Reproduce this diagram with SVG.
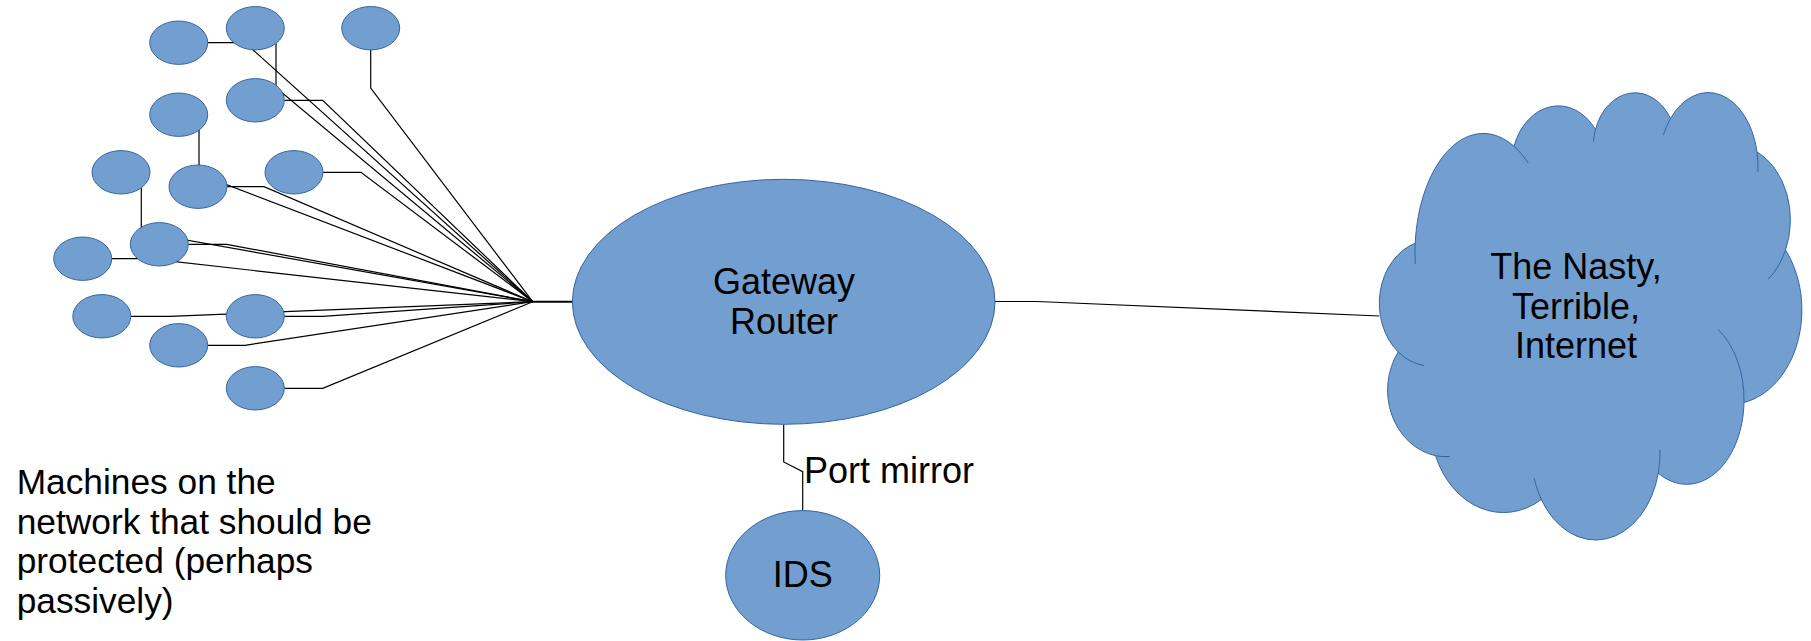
<svg xmlns="http://www.w3.org/2000/svg" width="1811" height="641" viewBox="0 0 1811 641">
<style>
.n{fill:#729fcf;stroke:#3465a4;stroke-width:1}
.c{fill:none;stroke:#000;stroke-width:1.2}
.ci{fill:none;stroke:#3465a4;stroke-width:1}
text{font-family:"Liberation Sans",Arial,sans-serif;font-size:36px;fill:#000}
.m{text-anchor:middle}
.cap{font-size:35.3px}
</style>
<rect width="1811" height="641" fill="#fff"/>
<g id="connectors">
<polyline class="c" points="207.7,42.7 245,42.7 532.7,301.7"/>
<polyline class="c" points="276,43.3 276,87.7 532.7,301.7"/>
<polyline class="c" points="370.7,50 370.7,88 532.7,301.7"/>
<polyline class="c" points="284.3,100.3 322.7,100.3 532.7,301.7"/>
<polyline class="c" points="199,130 199,174 532.7,301.7"/>
<polyline class="c" points="141.3,187.5 141.3,232 532.7,301.7"/>
<polyline class="c" points="227,186.7 264,186.7 532.7,301.7"/>
<polyline class="c" points="323,172.3 361,172.3 532.7,301.7"/>
<polyline class="c" points="188.3,244.3 226.7,244.3 532.7,301.7"/>
<polyline class="c" points="111.7,258.7 148.3,258.7 532.7,301.7"/>
<polyline class="c" points="130.7,316.3 170,316.3 532.7,301.7"/>
<polyline class="c" points="284.3,316.3 322.7,316.3 532.7,301.7"/>
<polyline class="c" points="207.7,345.3 245,345.3 532.7,301.7"/>
<polyline class="c" points="284.3,388.3 322.7,388.3 532.7,301.7"/>
<line x1="532.7" y1="301.7" x2="573" y2="301.7" stroke="#000" stroke-width="2"/>
<polyline class="c" points="995,301.5 1037,301.5 1379.3,316"/>
<polyline class="c" points="783.7,424.3 783.7,462 802.7,471.7 802.7,510.7"/>
</g>
<g id="machines">
<ellipse id="m1" class="n" cx="178.7" cy="42.7" rx="29" ry="21.7"/>
<ellipse id="m2" class="n" cx="255.3" cy="28.2" rx="29" ry="21.7"/>
<ellipse id="m3" class="n" cx="370.7" cy="28.2" rx="29" ry="21.7"/>
<ellipse id="m4" class="n" cx="255.3" cy="100.3" rx="29" ry="21.7"/>
<ellipse id="m5" class="n" cx="178.7" cy="114.7" rx="29" ry="21.7"/>
<ellipse id="m6" class="n" cx="121" cy="172.3" rx="29" ry="21.7"/>
<ellipse id="m7" class="n" cx="198" cy="186.7" rx="29" ry="21.7"/>
<ellipse id="m8" class="n" cx="294" cy="172.3" rx="29" ry="21.7"/>
<ellipse id="m9" class="n" cx="159.3" cy="244.3" rx="29" ry="21.7"/>
<ellipse id="m10" class="n" cx="82.7" cy="258.7" rx="29" ry="21.7"/>
<ellipse id="m11" class="n" cx="101.8" cy="316.3" rx="29" ry="21.7"/>
<ellipse id="m12" class="n" cx="255.3" cy="316.3" rx="29" ry="21.7"/>
<ellipse id="m13" class="n" cx="178.7" cy="345.3" rx="29" ry="21.7"/>
<ellipse id="m14" class="n" cx="255.3" cy="388.3" rx="29" ry="21.7"/>
</g>
<g id="router">
<ellipse class="n" cx="783.7" cy="301.8" rx="211.3" ry="122.5"/>
<text class="m" x="784" y="294.3">Gateway</text>
<text class="m" x="784" y="334.3">Router</text>
</g>
<g id="ids">
<ellipse class="n" cx="802.7" cy="575.3" rx="77" ry="64.7"/>
<text class="m" x="802.7" y="587.3">IDS</text>
</g>
<g id="port-mirror-label">
<text x="804" y="483.3">Port mirror</text>
</g>
<g id="internet">
<path class="n" d="M1415.2,243.2 A68.3,120 0 0 1 1514,146.3 A47,60.7 0 0 1 1595.5,129.5 A41.7,54 0 0 1 1670.5,118.5 A49.7,74 0 0 1 1757,152 A57.3,74.6 0 0 1 1785.5,250 A71.7,94.3 0 0 1 1744,402.5 A57.3,84.3 0 0 1 1658.3,473.2 A64.3,86.7 0 0 1 1541.3,499.5 A72.7,89 0 0 1 1435.6,455.7 A59,66.7 0 0 1 1398.2,352 A52.3,63.3 0 0 1 1415.2,243.2 Z"/>
<path class="ci" d="M1415.2,243.2 A68.3,120 0 0 0 1415.3,263.8"/>
<path class="ci" d="M1514,146.3 A68.3,120 0 0 1 1528.3,163"/>
<path class="ci" d="M1595.5,129.5 A41.7,54 0 0 0 1593.5,141.7"/>
<path class="ci" d="M1670.5,118.5 A49.7,74 0 0 0 1663.3,135.3"/>
<path class="ci" d="M1757,152 A49.7,74 0 0 1 1757.9,172"/>
<path class="ci" d="M1785.5,250 A57.3,74.6 0 0 1 1768.1,279.3"/>
<path class="ci" d="M1717.9,329.3 A57.3,84.3 0 0 1 1744,402.5"/>
<path class="ci" d="M1658.3,473.2 A64.3,86.7 0 0 0 1660,450"/>
<path class="ci" d="M1541.3,499.5 A64.3,86.7 0 0 1 1534.1,478.3"/>
<path class="ci" d="M1435.6,455.7 A59,66.7 0 0 0 1450,456.5"/>
<path class="ci" d="M1398.2,352 A52.3,63.3 0 0 0 1424,365.5"/>
<text class="m" x="1576" y="279">The Nasty,</text>
<text class="m" x="1576" y="319">Terrible,</text>
<text class="m" x="1576" y="358.3">Internet</text>
</g>
<g id="caption">
<text class="cap" x="16.7" y="494.3">Machines on the</text>
<text class="cap" x="16.7" y="534.3">network that should be</text>
<text class="cap" x="16.7" y="573.3">protected (perhaps</text>
<text class="cap" x="16.7" y="613.3">passively)</text>
</g>
</svg>
